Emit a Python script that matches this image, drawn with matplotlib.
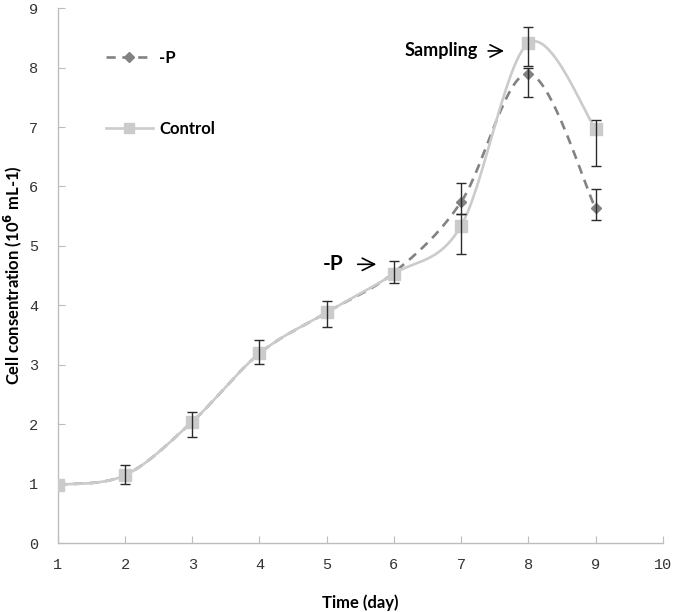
import numpy as np
import matplotlib
matplotlib.use('Agg')
from matplotlib import pyplot as plt

# data
days = [1, 2, 3, 4, 5, 6, 7, 8, 9]
p_vals = [0.98, 1.14, 2.04, 3.19, 3.88, 4.55, 5.74, 7.90, 5.63]
ctrl_vals = [0.98, 1.14, 2.04, 3.19, 3.88, 4.53, 5.34, 8.41, 6.97]

ctrl_lo = [None, 0.15, 0.25, 0.18, 0.24, 0.15, 0.48, 0.38, 0.63]
ctrl_hi = [None, 0.18, 0.16, 0.22, 0.20, 0.21, 0.19, 0.28, 0.15]
p_lo = [None, None, None, None, None, None, 0.21, 0.40, 0.19]
p_hi = [None, None, None, None, None, None, 0.31, 0.10, 0.32]

x_ticks = list(range(1, 11))
y_ticks = list(range(0, 10))

label_font = 'Lato'
tick_font = 'Liberation Mono'


def smooth(x, y, n=30):
    # catmull-rom style smoothing like the spreadsheet "smoothed line"
    x = np.asarray(x, float)
    y = np.asarray(y, float)
    px = np.concatenate([[x[0]], x, [x[-1]]])
    py = np.concatenate([[y[0]], y, [y[-1]]])
    xs, ys = [], []
    t = np.linspace(0, 1, n)
    for i in range(1, len(px) - 2):
        p0 = np.array([px[i], py[i]])
        p3 = np.array([px[i + 1], py[i + 1]])
        p1 = p0 + (np.array([px[i + 1], py[i + 1]]) - np.array([px[i - 1], py[i - 1]])) / 6
        p2 = p3 - (np.array([px[i + 2], py[i + 2]]) - np.array([px[i], py[i]])) / 6
        b = ((1 - t) ** 3)[:, None] * p0 + (3 * (1 - t) ** 2 * t)[:, None] * p1 \
            + (3 * (1 - t) * t ** 2)[:, None] * p2 + (t ** 3)[:, None] * p3
        xs.extend(b[:, 0])
        ys.extend(b[:, 1])
    return np.array(xs), np.array(ys)


def errbars(ax, x, y, lo, hi):
    idx = [i for i in range(len(x)) if lo[i] is not None]
    ax.errorbar([x[i] for i in idx], [y[i] for i in idx],
                yerr=[[lo[i] for i in idx], [hi[i] for i in idx]],
                fmt='none', ecolor='#2b2b2b', elinewidth=1.0, capsize=3.5,
                capthick=1.0, zorder=4)


fig = plt.figure(figsize=(6.75, 6.12), dpi=100)
ax = fig.add_axes([0.0855, 0.1127, 0.8965, 0.874])

p_color = '#828282'
c_color = '#cbcbcb'

sx, sy = smooth(days, p_vals)
ax.plot(sx, sy, color=p_color, lw=1.9, ls=(0, (3.5, 2.5)), zorder=2)
ax.plot(days, p_vals, ls='none', marker='D', ms=5, color=p_color, zorder=3)

sx, sy = smooth(days, ctrl_vals)
ax.plot(sx, sy, color=c_color, lw=1.9, zorder=2)
ax.plot(days, ctrl_vals, ls='none', marker='s', ms=8, color=c_color, zorder=3)

errbars(ax, days, ctrl_vals, ctrl_lo, ctrl_hi)
errbars(ax, days, p_vals, p_lo, p_hi)

# legend proxies
h1, = ax.plot([], [], color=p_color, lw=1.9, ls=(0, (3.5, 2.5)), marker='D', ms=5)
h2, = ax.plot([], [], color=c_color, lw=1.9, marker='s', ms=6.5)
ax.legend([h1, h2], ['-P', 'Control'], loc='upper left', bbox_to_anchor=(0.055, 0.95),
          frameon=False, handlelength=2.8, handletextpad=0.4, labelspacing=3.3,
          prop={'family': label_font, 'weight': 'bold', 'size': 12})

# annotations
ax.text(5.10, 4.69, '-P', fontsize=15, fontweight='bold', family=label_font,
        ha='center', va='center')
ax.annotate('', xy=(5.78, 4.69), xytext=(5.42, 4.69),
            arrowprops=dict(arrowstyle='->', lw=1.2, mutation_scale=22, color='black'))
ax.text(6.70, 8.28, 'Sampling', fontsize=13, fontweight='bold', family=label_font,
        ha='center', va='center')
ax.annotate('', xy=(7.68, 8.28), xytext=(7.36, 8.28),
            arrowprops=dict(arrowstyle='->', lw=1.2, mutation_scale=22, color='black'))

ax.set_xlim(1, 10)
ax.set_ylim(0, 9)
ax.set_xticks(x_ticks)
ax.set_yticks(y_ticks)
for s in ['top', 'right']:
    ax.spines[s].set_visible(False)
for s in ['left', 'bottom']:
    ax.spines[s].set_color('#bdbdbd')
    ax.spines[s].set_linewidth(1.0)
ax.tick_params(direction='in', length=5, color='#bdbdbd', labelcolor='#333333',
               labelsize=11)
ax.tick_params(axis='x', pad=11)
ax.tick_params(axis='y', pad=14)
for lab in ax.get_xticklabels() + ax.get_yticklabels():
    lab.set_family(tick_font)

ax.set_xlabel('Time (day)', fontsize=12, fontweight='bold', family=label_font, labelpad=16)
ax.set_ylabel(r'Cell consentration (10$^{\mathbf{6}}$ mL-1)', fontsize=12,
              fontweight='bold', family=label_font, labelpad=4)

plt.savefig('out.png', dpi=100)
